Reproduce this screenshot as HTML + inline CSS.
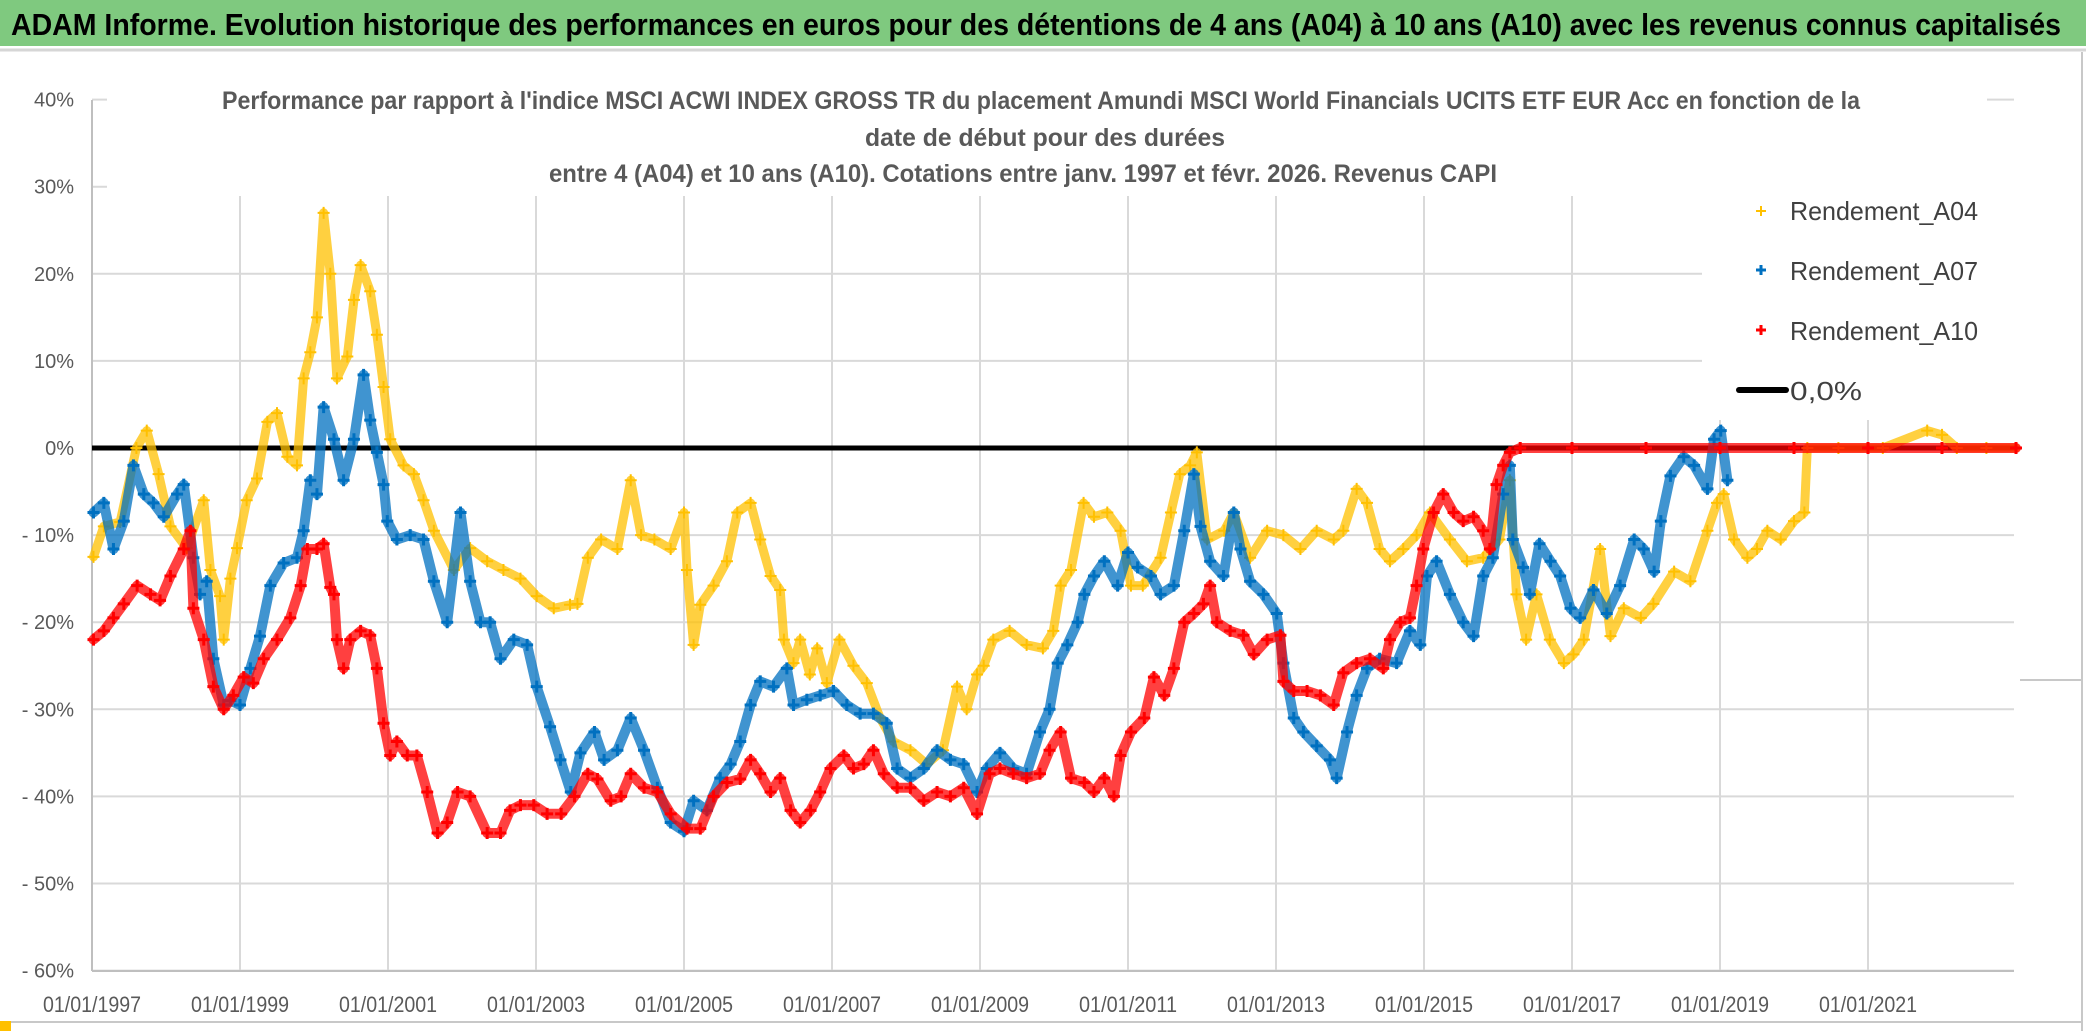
<!DOCTYPE html>
<html><head><meta charset="utf-8"><style>
html,body{margin:0;padding:0;background:#fff;}
svg{display:block;font-family:"Liberation Sans",sans-serif;}
</style></head><body>
<svg id="chart" width="2086" height="1031" viewBox="0 0 2086 1031">
<rect x="0" y="0" width="2086" height="1031" fill="#fff"/>
<rect x="0" y="0" width="2086" height="46" fill="#7fc97f"/>
<line x1="0" y1="50" x2="2086" y2="50" stroke="#d6d6d6" stroke-width="3"/>
<text x="1036" y="35" text-anchor="middle" font-size="31" font-weight="bold" fill="#000" textLength="2050" lengthAdjust="spacingAndGlyphs">ADAM Informe. Evolution historique des performances en euros pour des détentions de 4 ans (A04) à 10 ans (A10) avec les revenus connus capitalisés</text>
<line x1="2082" y1="52" x2="2082" y2="1031" stroke="#c8c8c8" stroke-width="2"/>
<line x1="0" y1="1022" x2="2082" y2="1022" stroke="#c8c8c8" stroke-width="2"/>
<line x1="2020" y1="680" x2="2082" y2="680" stroke="#c8c8c8" stroke-width="2"/>
<rect x="0" y="1021" width="11" height="10" fill="#ffc000"/>
<g id="grid"></g>
<g id="axes"></g>
<g id="series"></g>
<rect x="107" y="62" width="1880" height="134" fill="#fff"/>
<text x="1041" y="109" text-anchor="middle" font-size="25" font-weight="bold" fill="#595959" textLength="1638" lengthAdjust="spacingAndGlyphs">Performance par rapport à l'indice MSCI ACWI INDEX GROSS TR  du placement Amundi MSCI World Financials UCITS ETF EUR Acc en fonction de la</text>
<text x="1045" y="146" text-anchor="middle" font-size="25" font-weight="bold" fill="#595959" textLength="360" lengthAdjust="spacingAndGlyphs">date de début pour des durées</text>
<text x="1023" y="182" text-anchor="middle" font-size="25" font-weight="bold" fill="#595959" textLength="948" lengthAdjust="spacingAndGlyphs">entre 4 (A04) et 10 ans (A10). Cotations entre janv. 1997 et févr. 2026. Revenus CAPI</text>
<g>
<rect x="1702" y="182" width="316" height="238" fill="#fff"/>
<g>
<path d="M1756 211h10M1761 206v10" stroke="#ffc000" stroke-width="2"/>
<text x="1790" y="220" font-size="26" fill="#404040" textLength="188" lengthAdjust="spacingAndGlyphs">Rendement_A04</text></g>
<g>
<path d="M1756 270h10M1761 265v10" stroke="#0070c0" stroke-width="3"/>
<text x="1790" y="280" font-size="26" fill="#404040" textLength="188" lengthAdjust="spacingAndGlyphs">Rendement_A07</text></g>
<g>
<path d="M1756 330h10M1761 325v10" stroke="#ff0000" stroke-width="3"/>
<text x="1790" y="340" font-size="26" fill="#404040" textLength="188" lengthAdjust="spacingAndGlyphs">Rendement_A10</text></g>
<g>
<line x1="1739" y1="390" x2="1786" y2="390" stroke="#000" stroke-width="6" stroke-linecap="round"/>
<text x="1790" y="400" font-size="26" fill="#404040" textLength="72" lengthAdjust="spacingAndGlyphs">0,0%</text></g>
</g>
</svg>
<script>
const yTicks = [40,30,20,10,0,-10,-20,-30,-40,-50,-60];
const yTickLabels = ["40%","30%","20%","10%","0%","- 10%","- 20%","- 30%","- 40%","- 50%","- 60%"];
const xTicks = [1997,1999,2001,2003,2005,2007,2009,2011,2013,2015,2017,2019,2021];
const xTickLabels = ["01/01/1997","01/01/1999","01/01/2001","01/01/2003","01/01/2005","01/01/2007","01/01/2009","01/01/2011","01/01/2013","01/01/2015","01/01/2017","01/01/2019","01/01/2021"];

const yearsA04 = [1997.02,1997.16,1997.38,1997.6,1997.74,1997.9,1998.06,1998.28,1998.51,1998.6,1998.73,1998.78,1998.87,1998.96,1999.09,1999.23,1999.37,1999.5,1999.64,1999.77,1999.86,1999.95,2000.04,2000.13,2000.22,2000.31,2000.45,2000.54,2000.63,2000.76,2000.85,2000.94,2001.03,2001.21,2001.35,2001.48,2001.62,2001.89,2002.11,2002.34,2002.56,2002.79,2003.01,2003.24,2003.46,2003.56,2003.7,2003.88,2004.1,2004.28,2004.42,2004.6,2004.82,2005.0,2005.04,2005.13,2005.22,2005.4,2005.58,2005.72,2005.9,2006.03,2006.17,2006.3,2006.35,2006.48,2006.57,2006.7,2006.8,2006.93,2007.1,2007.29,2007.47,2007.65,2007.83,2008.06,2008.28,2008.5,2008.69,2008.82,2008.96,2009.05,2009.18,2009.4,2009.63,2009.85,2009.99,2010.09,2010.23,2010.4,2010.54,2010.72,2010.9,2011.04,2011.2,2011.44,2011.58,2011.7,2011.84,2011.93,2012.07,2012.3,2012.43,2012.65,2012.88,2013.1,2013.33,2013.55,2013.78,2013.91,2014.09,2014.23,2014.4,2014.54,2014.72,2014.9,2015.08,2015.35,2015.58,2015.8,2016.02,2016.16,2016.25,2016.38,2016.52,2016.7,2016.89,2017.02,2017.16,2017.38,2017.52,2017.7,2017.93,2018.1,2018.38,2018.6,2018.83,2018.96,2019.05,2019.19,2019.37,2019.5,2019.64,2019.82,2020.0,2020.14,2020.18,2020.6,2021.2,2021.8,2022.0,2022.2,2022.6,2023.0];
const valuesA04 = [-12.5,-9,-8.5,0,2,-3,-9,-11.5,-6,-14,-17,-22,-15,-11.5,-6,-3.5,3,4,-1,-2,8,11,15,27,20,8,10.5,17,21,18,13,7,1,-2,-3,-6,-9.5,-14,-11.5,-13,-14,-15,-17,-18.4,-18,-17.9,-12.6,-10.5,-11.6,-3.7,-10,-10.5,-11.6,-7.4,-14,-22.6,-18,-15.8,-13,-7.4,-6.3,-10.5,-14.7,-16.3,-22,-24.7,-22,-26,-23,-27,-22,-25,-27,-31,-33.7,-34.7,-36.3,-34.7,-27.4,-30,-26,-25,-22,-21,-22.6,-23,-21,-15.8,-14,-6.3,-7.9,-7.4,-9.5,-15.8,-15.8,-12.6,-7.4,-3,-2,-0.5,-10.5,-9.5,-7.4,-12.6,-9.5,-10,-11.6,-9.5,-10.5,-9.5,-4.7,-6.3,-11.6,-13,-11.6,-10,-7.4,-10.5,-13,-12.6,-10.5,-3.7,-16.8,-22,-16.8,-22,-24.7,-23.7,-22,-11.6,-21.6,-18.4,-19.5,-17.9,-14.2,-15.3,-9.5,-6.3,-5.3,-10.5,-12.6,-11.6,-9.5,-10.5,-8.4,-7.4,0,0,0,2,1.5,0,0,0];

const yearsA07 = [1997.02,1997.16,1997.29,1997.43,1997.56,1997.7,1997.83,1997.97,1998.15,1998.24,1998.37,1998.46,1998.55,1998.64,1998.78,1998.87,1999.0,1999.14,1999.27,1999.41,1999.59,1999.77,1999.86,1999.95,2000.04,2000.13,2000.27,2000.4,2000.54,2000.67,2000.76,2000.85,2000.94,2000.99,2001.12,2001.3,2001.48,2001.62,2001.8,2001.98,2002.11,2002.25,2002.38,2002.52,2002.7,2002.88,2003.01,2003.19,2003.33,2003.47,2003.6,2003.79,2003.92,2004.1,2004.28,2004.46,2004.64,2004.82,2005.0,2005.13,2005.31,2005.49,2005.63,2005.76,2005.9,2006.03,2006.21,2006.39,2006.48,2006.66,2006.84,2007.02,2007.2,2007.38,2007.56,2007.74,2007.88,2008.06,2008.24,2008.42,2008.6,2008.78,2008.96,2009.09,2009.27,2009.45,2009.63,2009.81,2009.94,2010.05,2010.18,2010.32,2010.41,2010.54,2010.68,2010.86,2011.0,2011.13,2011.31,2011.44,2011.62,2011.76,2011.89,2011.98,2012.11,2012.29,2012.43,2012.52,2012.65,2012.83,2013.01,2013.1,2013.24,2013.37,2013.55,2013.73,2013.82,2013.96,2014.09,2014.23,2014.4,2014.63,2014.81,2014.95,2015.04,2015.17,2015.35,2015.53,2015.67,2015.8,2015.93,2016.07,2016.16,2016.2,2016.34,2016.43,2016.56,2016.71,2016.84,2016.98,2017.11,2017.29,2017.47,2017.65,2017.84,2017.97,2018.11,2018.2,2018.33,2018.51,2018.65,2018.83,2018.92,2019.01,2019.1];
const valuesA07 = [-7.4,-6.3,-11.6,-8.4,-2,-5.3,-6.3,-7.9,-5.3,-4.2,-12.6,-16.8,-15.3,-24.2,-29.5,-29,-29.5,-25.3,-21.6,-15.8,-13.2,-12.6,-9.5,-3.7,-5.3,4.7,1,-3.7,1,8.4,3.2,-0.5,-4.2,-8.4,-10.5,-10,-10.5,-15.3,-20,-7.4,-15.3,-20,-20,-24.2,-22,-22.6,-27.4,-32,-35.8,-39.5,-35,-32.6,-35.8,-34.7,-31,-34.7,-39,-43,-44,-40.5,-41.6,-37.9,-36.3,-33.7,-29.5,-26.8,-27.4,-25.3,-29.5,-28.9,-28.4,-27.9,-29.5,-30.5,-30.5,-31.6,-36.8,-37.9,-36.8,-34.7,-35.8,-36.3,-39.5,-36.8,-35,-36.8,-37.4,-32.6,-30,-24.7,-22.6,-20,-16.8,-14.7,-13,-15.8,-12,-13.7,-14.7,-16.8,-15.8,-9.5,-3,-9,-13,-14.7,-7.4,-11.6,-15.3,-16.8,-19,-24.7,-31,-32.6,-34.2,-35.8,-37.9,-32.6,-28.4,-25.3,-24.2,-24.7,-21,-22.6,-14.7,-13,-16.8,-20,-21.6,-14.7,-12.6,-5.3,-2,-10.5,-13.7,-16.8,-11,-13,-14.7,-18.4,-19.5,-16.3,-19,-15.8,-10.5,-11.6,-14.2,-8.4,-3.2,-1,-2,-4.7,1,2,-3.7];

const yearsA10 = [1997.02,1997.16,1997.29,1997.43,1997.61,1997.79,1997.92,1998.06,1998.24,1998.33,1998.37,1998.51,1998.64,1998.78,1998.91,1999.05,1999.18,1999.32,1999.5,1999.68,1999.82,1999.91,2000.04,2000.13,2000.22,2000.27,2000.31,2000.4,2000.49,2000.63,2000.76,2000.85,2000.94,2001.03,2001.12,2001.26,2001.39,2001.53,2001.67,2001.8,2001.94,2002.11,2002.34,2002.52,2002.65,2002.79,2002.97,2003.15,2003.34,2003.52,2003.7,2003.83,2004.01,2004.15,2004.28,2004.46,2004.64,2004.82,2005.04,2005.22,2005.4,2005.58,2005.76,2005.9,2006.03,2006.17,2006.3,2006.44,2006.57,2006.71,2006.84,2006.98,2007.16,2007.29,2007.43,2007.56,2007.7,2007.88,2008.06,2008.24,2008.42,2008.6,2008.78,2008.96,2009.13,2009.27,2009.45,2009.63,2009.81,2009.94,2010.09,2010.23,2010.41,2010.54,2010.68,2010.81,2010.9,2011.04,2011.22,2011.35,2011.49,2011.62,2011.76,2011.89,2012.02,2012.11,2012.2,2012.38,2012.56,2012.7,2012.88,2013.06,2013.1,2013.24,2013.42,2013.6,2013.78,2013.91,2014.09,2014.27,2014.45,2014.54,2014.68,2014.81,2014.9,2014.99,2015.13,2015.26,2015.4,2015.53,2015.67,2015.8,2015.89,2015.98,2016.07,2016.16,2016.3,2017.0,2018.0,2019.0,2020.0,2021.0,2022.0,2023.0];
const valuesA10 = [-22,-21,-19.5,-17.9,-15.8,-16.8,-17.5,-14.7,-11.6,-9.5,-18.4,-22,-27.4,-30,-28.4,-26.3,-27,-24.2,-22,-19.5,-15.8,-11.6,-11.6,-11,-16,-16.8,-22,-25.3,-22,-21,-21.5,-25.3,-31.6,-35.3,-33.7,-35.3,-35.3,-39.5,-44.2,-43,-39.5,-40,-44.2,-44.2,-41.6,-41,-41,-42,-42,-40,-37.4,-38,-40.5,-40,-37.4,-39,-39.5,-42,-43.7,-43.7,-40,-38.4,-38,-35.8,-37.4,-39.5,-37.9,-41.6,-43,-41.6,-39.5,-36.8,-35.3,-36.8,-36.3,-34.7,-37.4,-39,-39,-40.5,-39.5,-40,-39,-42,-37.4,-36.8,-37.4,-37.9,-37.4,-34.7,-32.6,-37.9,-38.4,-39.5,-37.9,-40,-35.3,-32.6,-31,-26.3,-28.4,-25.3,-20,-19,-17.9,-15.8,-20,-21,-21.5,-23.7,-22,-21.5,-26.8,-27.9,-27.9,-28.4,-29.5,-25.8,-24.7,-24.2,-25.3,-22,-20,-19.5,-15.8,-11.6,-7.4,-5.3,-7.4,-8.4,-7.9,-9.5,-11.6,-4.2,-2,-0.5,0,0,0,0,0,0,0,0];

const X0 = 92, PX_PER_YEAR = 74, Y_ZERO = 448, PX_PER_PCT = 8.71;
const PLOT_LEFT = 92, PLOT_RIGHT = 2014, PLOT_TOP = 100, PLOT_BOTTOM = 971;
function xScale(yr){ return X0 + (yr - 1997) * PX_PER_YEAR; }
function yScale(p){ return Y_ZERO - p * PX_PER_PCT; }

const NS = "http://www.w3.org/2000/svg";
function mk(tag, attrs, parent){ const e = document.createElementNS(NS, tag); for (const k in attrs) e.setAttribute(k, attrs[k]); parent.appendChild(e); return e; }
const grid = document.getElementById('grid');
const axes = document.getElementById('axes');
const series = document.getElementById('series');

yTicks.forEach((t, i) => {
  const y = yScale(t);
  const gl = mk('line', {x1: PLOT_LEFT, x2: PLOT_RIGHT, y1: y, y2: y, stroke: '#d9d9d9', 'stroke-width': 2}, grid);
  
  
  const lb = mk('text', {x: 74, y: y + 7, 'text-anchor': 'end', 'font-size': 20, fill: '#595959'}, axes);
  lb.textContent = yTickLabels[i];
  
  
});
xTicks.forEach((t, i) => {
  const x = xScale(t);
  if (i > 0) {
    const gl = mk('line', {x1: x, x2: x, y1: PLOT_TOP, y2: PLOT_BOTTOM, stroke: '#d9d9d9', 'stroke-width': 2}, grid);
    
    
  }
  const lb = mk('text', {x: x, y: 1012, 'text-anchor': 'middle', 'font-size': 22, fill: '#595959', textLength: 98, lengthAdjust: 'spacingAndGlyphs'}, axes);
  lb.textContent = xTickLabels[i];
  
  
});
const ya = mk('line', {x1: PLOT_LEFT, x2: PLOT_LEFT, y1: PLOT_TOP, y2: PLOT_BOTTOM, stroke: '#bfbfbf', 'stroke-width': 2}, axes);


const xa = mk('line', {x1: PLOT_LEFT, x2: PLOT_RIGHT, y1: PLOT_BOTTOM, y2: PLOT_BOTTOM, stroke: '#bfbfbf', 'stroke-width': 2}, axes);



const zl = mk('line', {x1: PLOT_LEFT, x2: xScale(2023.0), y1: yScale(0), y2: yScale(0), stroke: '#000', 'stroke-width': 5}, series);



function drawSeries(years, values, color, name, bandW, sw){
  const g = mk('g', {}, series);
  
  
  const pts = years.map((yr, i) => xScale(yr).toFixed(1) + ',' + yScale(values[i]).toFixed(1)).join(' ');
  const pl = mk('polyline', {points: pts, fill: 'none', stroke: color, 'stroke-width': bandW, 'stroke-linejoin': 'round', 'stroke-linecap': 'round', opacity: 0.75}, g);
  
  
  years.forEach((yr, i) => {
    const x = xScale(yr), y = yScale(values[i]);
    const c = mk('path', {d: `M${x-6} ${y}h12M${x} ${y-6}v12`, stroke: color, 'stroke-width': sw}, g);
    
    
  });
}
drawSeries(yearsA04, valuesA04, '#ffc000', 'series-a04', 9, 2);
drawSeries(yearsA07, valuesA07, '#0070c0', 'series-a07', 10, 3);
drawSeries(yearsA10, valuesA10, '#ff0000', 'series-a10', 10, 3);
</script>
</body></html>
